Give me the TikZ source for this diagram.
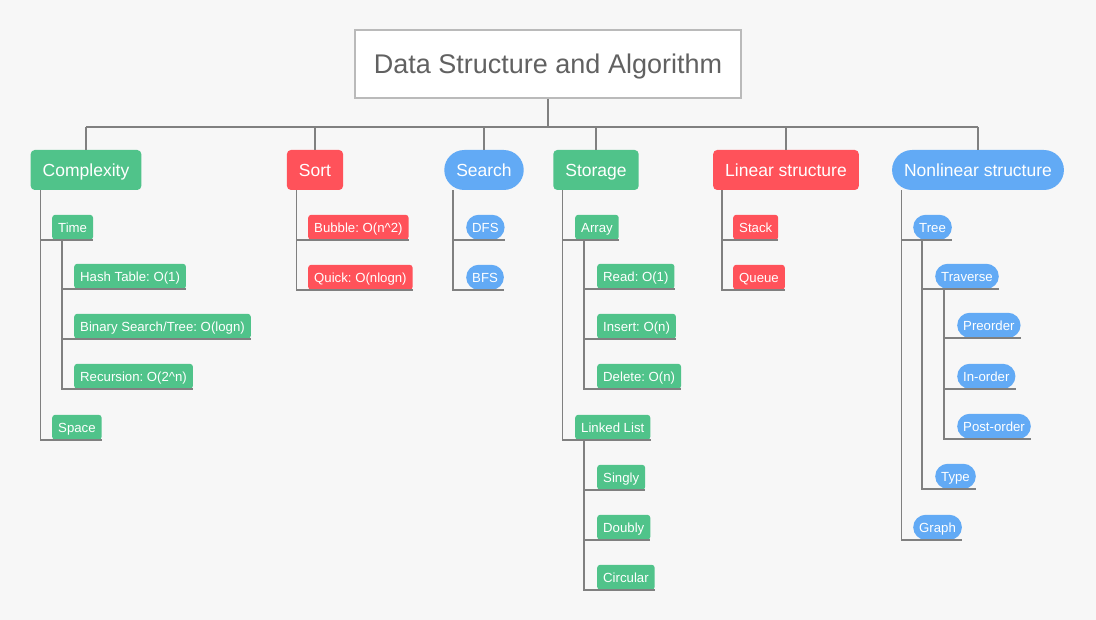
\documentclass[tikz,border=0pt]{standalone}
\usepackage{fontspec}
\setmainfont{Liberation Sans}
\frenchspacing
\definecolor{bgc}{RGB}{247,247,247}
\definecolor{grn}{RGB}{80,195,138}
\definecolor{rd}{RGB}{255,82,90}
\definecolor{blu}{RGB}{98,170,245}
\definecolor{lnc}{RGB}{128,128,128}
\begin{document}
\begin{tikzpicture}[x=1pt,y=-1pt,
	topic/.style={text=white,font=\fontsize{17.5}{18}\selectfont,minimum height=40pt,inner xsep=12pt,inner ysep=0pt,text height=12.5pt,text depth=0pt,rounded corners=4pt},
	item/.style={text=white,font=\fontsize{13.2}{13}\selectfont,minimum height=25pt,inner xsep=6pt,inner ysep=0pt,text height=9.5pt,text depth=0pt,rounded corners=3pt,anchor=south west},
	pill/.style={rounded corners=#1},
	trunk/.style={draw=lnc,line width=2pt},
	branch/.style={draw=lnc,line width=1.2pt}]

	\fill[bgc] (0,0) rectangle (1096,620);

	% root
	\node[draw=black!27,line width=1.3pt,fill=white,text=black!62,font=\fontsize{27}{27}\selectfont,text height=19pt,text depth=0pt,minimum width=386pt,minimum height=68pt] (root) at (548,64) {Data Structure and Algorithm};
	\coordinate (bar) at (548,127);

	% first level
	\node[topic,fill=grn] (cpx) at (86,170) {Complexity};
	\node[topic,fill=rd] (srt) at (315,170) {Sort};
	\node[topic,fill=blu,pill=20pt] (srch) at (484,170) {Search};
	\node[topic,fill=grn] (sto) at (596,170) {Storage};
	\node[topic,fill=rd] (lin) at (786,170) {Linear structure};
	\node[topic,fill=blu,pill=20pt] (nln) at (978,170) {Nonlinear structure};

	\draw[trunk] (root.south) -- (bar);
	\draw[trunk] (cpx.north |- bar) -- (nln.north |- bar);
	\foreach \t in {cpx,srt,srch,sto,lin,nln}
		\draw[trunk] (\t.north |- bar) -- (\t.north);

	% complexity
	\node[item,fill=grn] (time) at (52,240) {Time};
	\node[item,fill=grn] (hash) at (74,289) {Hash Table: O(1)};
	\node[item,fill=grn] (bins) at (74,339) {Binary Search/Tree: O(logn)};
	\node[item,fill=grn] (recu) at (74,389) {Recursion: O(2\^{}n)};
	\node[item,fill=grn] (spac) at (52,440) {Space};
	\foreach \c in {time,spac}
		\draw[branch] ([xshift=10pt]cpx.south west) |- (\c.south east);
	\foreach \c in {hash,bins,recu}
		\draw[branch] ([xshift=10pt]time.south west) |- (\c.south east);

	% sort
	\node[item,fill=rd] (bubl) at (308,240) {Bubble: O(n\^{}2)};
	\node[item,fill=rd] (quik) at (308,290) {Quick: O(nlogn)};
	\foreach \c in {bubl,quik}
		\draw[branch] ([xshift=10pt]srt.south west) |- (\c.south east);

	% search
	\node[item,fill=blu,pill=12.5pt] (dfs) at (466,240) {DFS};
	\node[item,fill=blu,pill=12.5pt] (bfs) at (466,290) {BFS};
	\foreach \c in {dfs,bfs}
		\draw[branch] ([xshift=9pt]srch.south west) |- (\c.south east);

	% storage
	\node[item,fill=grn] (arr) at (575,240) {Array};
	\node[item,fill=grn] (read) at (597,289) {Read: O(1)};
	\node[item,fill=grn] (ins) at (597,339) {Insert: O(n)};
	\node[item,fill=grn] (del) at (597,389) {Delete: O(n)};
	\node[item,fill=grn] (llst) at (575,440) {Linked List};
	\node[item,fill=grn] (sgl) at (597,490) {Singly};
	\node[item,fill=grn] (dbl) at (597,540) {Doubly};
	\node[item,fill=grn] (circ) at (597,590) {Circular};
	\foreach \c in {arr,llst}
		\draw[branch] ([xshift=9pt]sto.south west) |- (\c.south east);
	\foreach \c in {read,ins,del}
		\draw[branch] ([xshift=9pt]arr.south west) |- (\c.south east);
	\foreach \c in {sgl,dbl,circ}
		\draw[branch] ([xshift=9pt]llst.south west) |- (\c.south east);

	% linear structure
	\node[item,fill=rd] (stk) at (733,240) {Stack};
	\node[item,fill=rd] (que) at (733,290) {Queue};
	\foreach \c in {stk,que}
		\draw[branch] ([xshift=9pt]lin.south west) |- (\c.south east);

	% nonlinear structure
	\node[item,fill=blu,pill=12.5pt] (tree) at (913,240) {Tree};
	\node[item,fill=blu,pill=12.5pt] (trav) at (935,289) {Traverse};
	\node[item,fill=blu,pill=12.5pt] (pre) at (957,338) {Preorder};
	\node[item,fill=blu,pill=12.5pt] (ino) at (957,389) {In-order};
	\node[item,fill=blu,pill=12.5pt] (post) at (957,439) {Post-order};
	\node[item,fill=blu,pill=12.5pt] (type) at (935,489) {Type};
	\node[item,fill=blu,pill=12.5pt] (grph) at (913,540) {Graph};
	\foreach \c in {tree,grph}
		\draw[branch] ([xshift=10pt]nln.south west) |- (\c.south east);
	\foreach \c in {trav,type}
		\draw[branch] ([xshift=9pt]tree.south west) |- (\c.south east);
	\foreach \c in {pre,ino,post}
		\draw[branch] ([xshift=9pt]trav.south west) |- (\c.south east);

\end{tikzpicture}
\end{document}
